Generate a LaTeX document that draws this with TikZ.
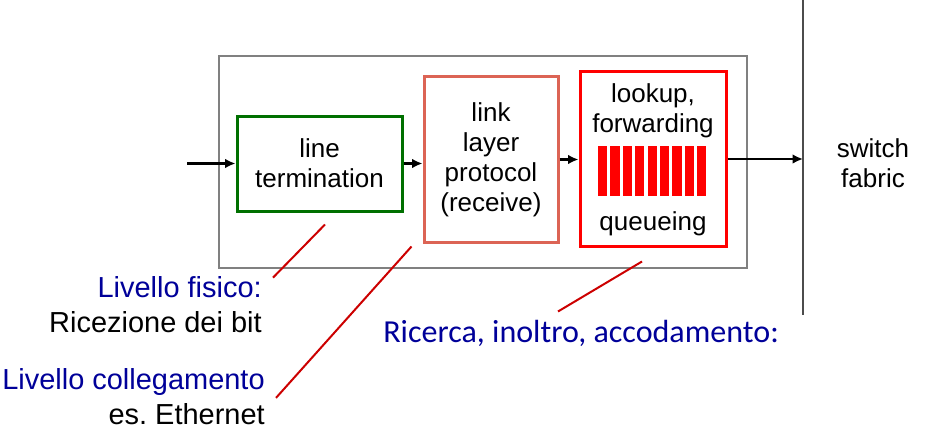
\documentclass[tikz,border=0pt]{standalone}
\usepackage{fontspec}
\setmainfont{Liberation Sans}
\newfontfamily\calibrifont{Carlito}
\usepackage{tikz}
\usetikzlibrary{positioning,arrows.meta,calc}
\usepackage{xcolor}
\definecolor{termgreen}{RGB}{0,112,0}
\definecolor{linksalmon}{RGB}{220,100,85}
\definecolor{labblue}{RGB}{0,0,153}
\definecolor{leadred}{RGB}{204,0,0}
\frenchspacing

\begin{document}
\begin{tikzpicture}[font=\fontsize{18.5}{21.3}\selectfont,>=Latex]
\tikzset{
  blk/.style={draw,line width=0.75mm,align=center,inner sep=0pt},
  arr/.style={-{Latex[length=2.6mm,width=2.4mm]},line width=0.7mm},
  lead/.style={draw=leadred,line width=0.5mm},
  lab/.style={align=right,inner sep=0pt,font=\fontsize{20.6}{24.8}\selectfont}
}
\useasboundingbox (0,0) rectangle (231.25mm,-110mm);

% Input port and its three stages
\node[draw=black!50,line width=0.5mm,minimum width=132mm,minimum height=53mm] (port) at (120.75mm,-40.5mm) {};
\node[blk,draw=termgreen,minimum width=41.25mm,minimum height=23.75mm] (term) at (79.875mm,-40.875mm) {line\\termination};
\node[blk,draw=linksalmon,minimum width=33.5mm,minimum height=41.25mm] (link) at (122.75mm,-39.875mm) {link\\layer\\protocol\\(receive)};
\node[blk,draw=red,minimum width=36.5mm,minimum height=43.5mm] (look) at (163.25mm,-39.75mm) {};
\node[align=center,inner sep=0pt] (lookt) at (163.25mm,-27.75mm) {lookup,\\forwarding};
\node[anchor=base,inner sep=0pt] (queue) at (163.25mm,-57.5mm) {queueing};
\foreach \i in {0,...,8}
  \fill[red] ($(149.5mm,-36.5mm)+(\i*3.1mm,0)$) rectangle ++(2.3mm,-12.5mm);

% Switch fabric
\coordinate (ftop) at (200.75mm,0);
\coordinate (fbot) at (200.75mm,-78.75mm);
\draw[black!70,line width=0.45mm] (ftop) -- (fbot);
\node[align=center] (fabric) at (218.25mm,-40.75mm) {switch\\fabric};

% Data path
\coordinate (in) at (46.75mm,-40.875mm);
\draw[arr] (in) -- (term.west);
\draw[arr] (term.east) -- (term.east -| link.west);
\draw[arr] (link.east) -- (link.east -| look.west);
\draw[arr] (look.east) -- (look.east -| ftop);

% Notes
\node[lab,anchor=east] (fis) at (65.5mm,-76.25mm) {\textcolor{labblue}{Livello fisico:}\\Ricezione dei bit};
\node[lab,anchor=east] (col) at (66.25mm,-99.1mm) {\textcolor{labblue}{Livello collegamento}\\es. Ethernet};
\node[anchor=base west,inner sep=0pt,font=\calibrifont\fontsize{22.8}{27}\selectfont,text=labblue] (ric) at (95.75mm,-85.5mm) {Ricerca, inoltro, accodamento:};
\draw[lead] ($(fis.north east)+(2.75mm,-0.25mm)$) -- ($(term.south)+(1.375mm,-3mm)$);
\draw[lead] ($(col.east)+(2.75mm,-0.375mm)$) -- ($(link.south west)+(-2.75mm,-0.75mm)$);
\draw[lead] ($(look.south)+(-23.75mm,-16mm)$) -- ($(look.south)+(-2.75mm,-3.5mm)$);
\end{tikzpicture}
\end{document}
